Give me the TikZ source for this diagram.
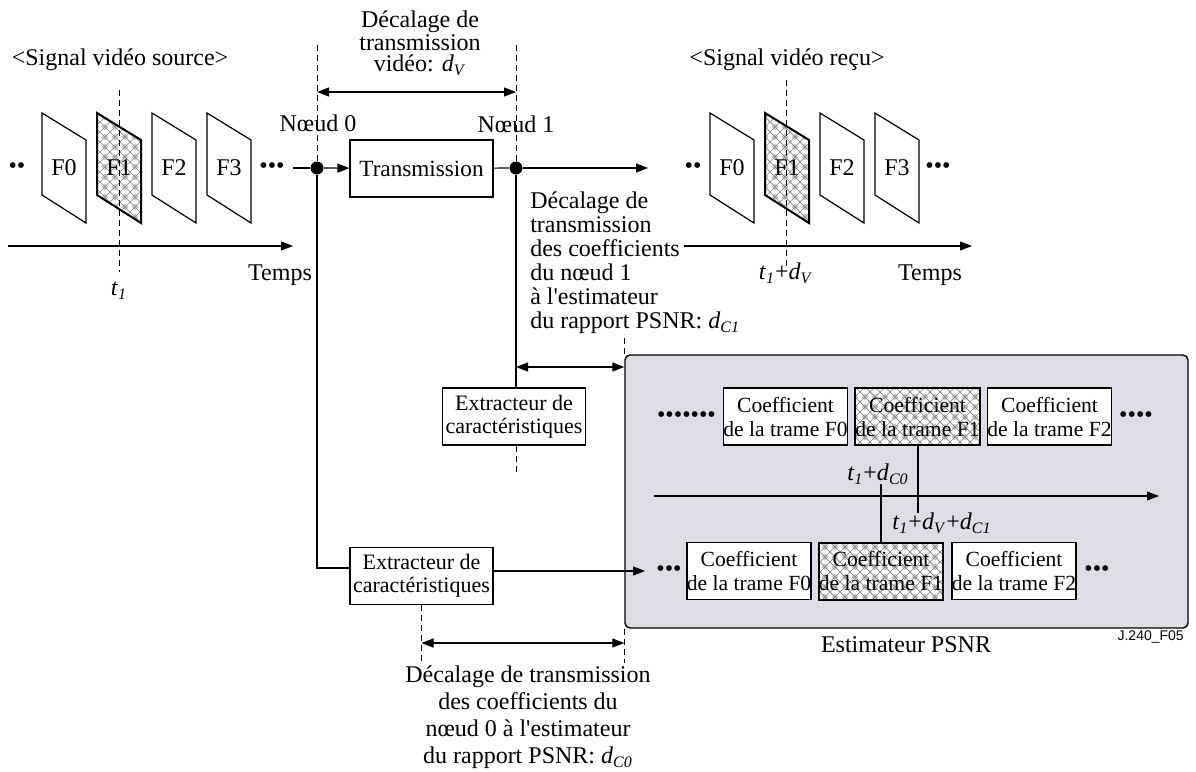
\documentclass[tikz,border=0pt]{standalone}
\usepackage{fontspec}
\setmainfont{Liberation Serif}[Ligatures=TeXOff]
\newfontfamily\labelsans{Liberation Sans}
\usetikzlibrary{arrows.meta,patterns}

% chain-link mesh used for the highlighted frame F1
\pgfdeclarepatternformonly{chainmesh}{\pgfqpoint{-0.5pt}{-0.5pt}}{\pgfqpoint{5.5pt}{5.5pt}}{\pgfqpoint{5pt}{5pt}}{%
  \pgfsetlinewidth{0.35pt}%
  \pgfpathmoveto{\pgfqpoint{0pt}{0pt}}\pgfpathlineto{\pgfqpoint{5pt}{5pt}}%
  \pgfpathmoveto{\pgfqpoint{0pt}{5pt}}\pgfpathlineto{\pgfqpoint{5pt}{0pt}}%
  \pgfusepath{stroke}%
  \pgfpathcircle{\pgfqpoint{2.5pt}{2.5pt}}{1.1pt}%
  \pgfusepath{stroke}%
}

\definecolor{estgray}{RGB}{221,222,227}
\newcommand{\tone}{\textit{t}\textsubscript{\textit{1}}}
\newcommand{\dsub}[1]{\textit{d}\textsubscript{\textit{#1}}}

\tikzset{
  frame/.style={draw, line width=0.6pt, fill=white},
  hatchframe/.style={draw, line width=1pt, pattern=chainmesh, pattern color=black!50},
  box/.style={draw, line width=0.6pt, fill=white, inner sep=0pt, align=center,
              minimum width=71.5pt, minimum height=28.5pt, font=\fontsize{11}{11.5}\selectfont},
  coef/.style={draw, line width=0.6pt, fill=white, inner sep=0pt, align=center,
              minimum width=62pt, minimum height=28.5pt, font=\fontsize{10.8}{12}\selectfont},
  coefhatch/.style={coef, line width=1pt, preaction={fill=white}, pattern=chainmesh, pattern color=black!50},
  guide/.style={line width=0.5pt, dash pattern=on 3pt off 2pt},
  junction/.style={circle, fill=black, inner sep=0pt, minimum size=6.5pt},
  estbox/.style={draw, line width=0.7pt, fill=estgray, rounded corners=2.5pt, inner sep=0pt,
              minimum width=281.5pt, minimum height=136.5pt},
  thickline/.style={line width=1pt},
}

\begin{document}
\begin{tikzpicture}[x=0.5pt, y=-0.5pt, font=\fontsize{12}{14}\selectfont,
                    >={Triangle[length=6pt,width=4.5pt]}, line width=0.6pt]
\useasboundingbox (0,0) rectangle (1196,772);

% ---------- source video ----------
\node (srctitle) at (120,60) {<Signal vidéo source>};
\foreach \L/\lab in {42/F0, 152/F2, 207/F3}{
  \draw[frame] (\L,113) -- ++(44,27) -- ++(0,83) -- ++(-44,-28) -- cycle;
  \node at (\L+22,168) {\lab};
}
\draw[hatchframe] (97,113) -- ++(44,27) -- ++(0,83) -- ++(-44,-28) -- cycle;
\node at (119,168) {F1};
\node (srcdotsL) at (17,168) {••};
\node (srcdotsR) at (272,168) {•••};
\draw[guide] (119,90) -- (119,272);
\coordinate (srcaxA) at (8,246);
\coordinate (srcaxB) at (293,246);
\draw[->] (srcaxA) -- (srcaxB);
\node (srctemps) at (280,275) {Temps};
\node (srct) at (119,291) {\tone};

% ---------- transmission chain ----------
\node[junction] (n0) at (317,168) {};
\node[junction] (n1) at (516,168) {};
\node[box, font=\fontsize{11.6}{13}\selectfont] (tx) at (421.5,168.5) {Transmission};
\node (lbl0) at (318,123) {Nœud 0};
\node (lbl1) at (516,124) {Nœud 1};
\draw[guide] (317,45) -- (n0);
\draw[guide] (516,45) -- (n1);
\draw[<->] (317,92) -- (516,92);
\node[align=center, font=\fontsize{12}{10.5}\selectfont] (dvlabel) at (420,43)
  {Décalage de\\transmission\\vidéo: \dsub{V}};

\coordinate (chainin) at (293,168);
\coordinate (chainout) at (648,168);
\draw (chainin) -- (n0);
\draw[->] (n0) -- (tx);
\draw (tx) -- (n1);
\draw[->] (n1) -- (chainout);

% ---------- received video ----------
\node (rxtitle) at (787,60) {<Signal vidéo reçu>};
\foreach \L/\lab in {710/F0, 820/F2, 875/F3}{
  \draw[frame] (\L,113) -- ++(44,27) -- ++(0,83) -- ++(-44,-28) -- cycle;
  \node at (\L+22,168) {\lab};
}
\draw[hatchframe] (765,113) -- ++(44,27) -- ++(0,83) -- ++(-44,-28) -- cycle;
\node at (787,168) {F1};
\node (rxdotsL) at (693,168) {••};
\node (rxdotsR) at (938,168) {•••};
\draw[guide] (786,80) -- (786,267);
\coordinate (rxaxA) at (684,246);
\coordinate (rxaxB) at (972,246);
\draw[->] (rxaxA) -- (rxaxB);
\node (rxtemps) at (930,275) {Temps};
\node (rxt) at (786,273) {\tone+\dsub{V}};

% ---------- node 1 feature path ----------
\node[box] (ext1) at (514,416.5) {Extracteur de\\caractéristiques};
\draw[thickline] (n1) -- (n1 |- ext1.north);
\draw[guide] (n1 |- ext1.south) -- ++(0,27);
\node[anchor=west, align=left, font=\fontsize{12}{12}\selectfont] (dc1label) at (523,263)
  {Décalage de\\transmission\\des coefficients\\du nœud 1\\à l'estimateur\\du rapport PSNR: \dsub{C1}};

% ---------- PSNR estimator ----------
\node[estbox] (est) at (906.5,491.5) {};
\draw[guide] (est.north west) -- ++(0,-20);
\draw[<->] (n1 |- 0,367) -- (est.north west |- 0,367);

\node[coef] (ct0) at (785.5,416.5) {Coefficient\\de la trame F0};
\node[coefhatch] (ct1) at (917.5,416.5) {Coefficient\\de la trame F1};
\node[coef] (ct2) at (1049.5,416.5) {Coefficient\\de la trame F2};
\node (ctdotsL) at (686.5,417) {•••••••};
\node (ctdotsR) at (1136,417) {••••};

\node[coef] (cb0) at (749,571) {Coefficient\\de la trame F0};
\node[coefhatch] (cb1) at (881,571) {Coefficient\\de la trame F1};
\node[coef] (cb2) at (1014,571) {Coefficient\\de la trame F2};
\node (cbdotsL) at (669,571) {•••};
\node (cbdotsR) at (1097,571) {•••};

\coordinate (estaxA) at (654,496);
\coordinate (estaxB) at (1159,496);
\draw[->] (estaxA) -- (estaxB);
\draw[thickline] (ct1.south) -- ++(0,67);
\draw[thickline] (cb1.north) -- ++(0,-58);
\node (tc0) at (878,474) {\tone+\dsub{C0}};
\node (tc1) at (942,523) {\tone+\dsub{V}+\dsub{C1}};

\node (estlabel) at (906,645) {Estimateur PSNR};
\node[anchor=east, font=\labelsans\fontsize{7}{8}\selectfont] (figid) at (1191,637) {J.240\_F05};

% ---------- node 0 feature path ----------
\node[box] (ext0) at (421.5,576) {Extracteur de\\caractéristiques};
\coordinate (ext0in) at (350,568);
\coordinate (estin) at (645,571);
\draw (n0) |- (ext0in);
\draw[->] (ext0.east |- estin) -- (estin);
\draw[guide] (ext0.south) -- ++(0,59);
\draw[guide] (est.south west) -- ++(0,34);
\draw[<->] (ext0.south |- 0,643) -- (est.south west |- 0,643);
\node[align=center, font=\fontsize{12}{13.5}\selectfont] (dc0label) at (528,717.5)
  {Décalage de transmission\\des coefficients du\\nœud 0 à l'estimateur\\du rapport PSNR: \dsub{C0}};
\end{tikzpicture}
\end{document}
